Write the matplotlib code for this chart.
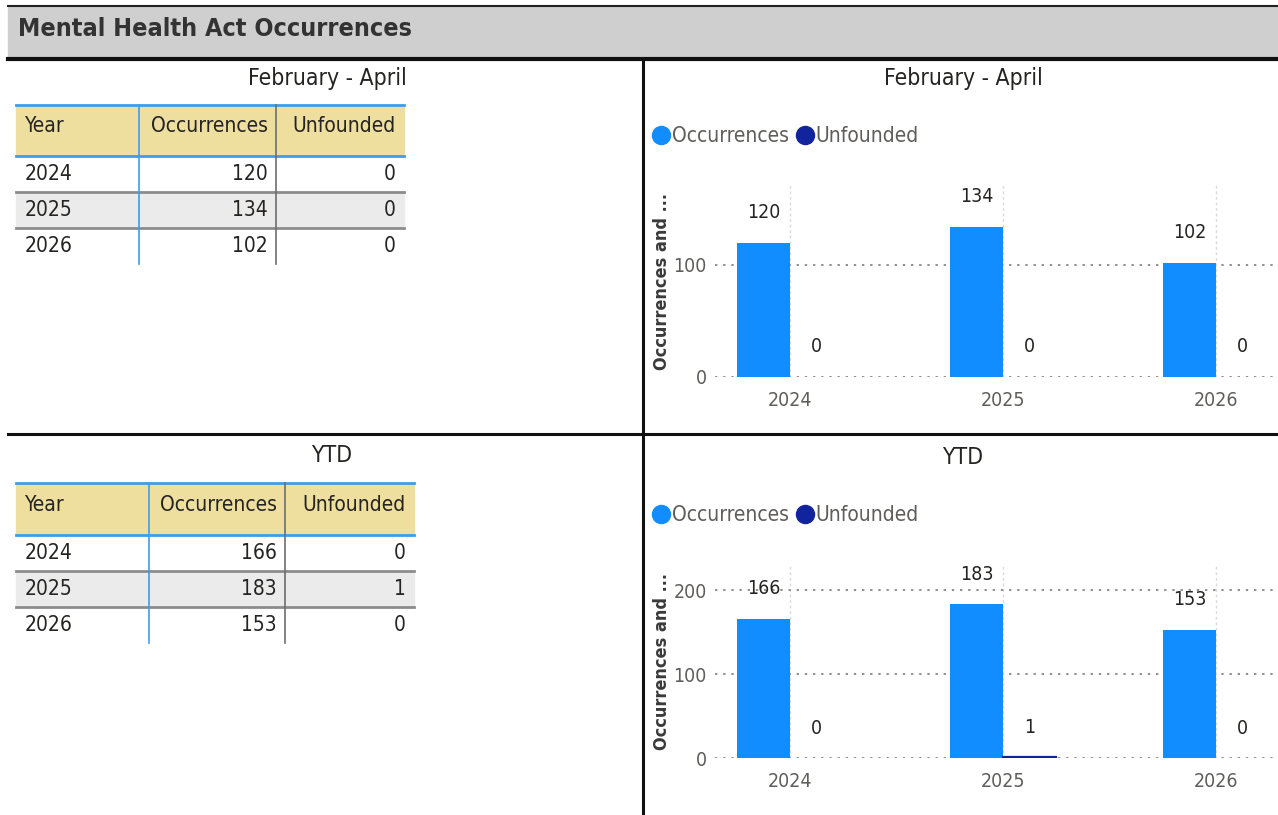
import matplotlib
matplotlib.use('Agg')
import matplotlib.pyplot as plt
from matplotlib.patches import Rectangle
from matplotlib.lines import Line2D

plt.rcParams['font.family'] = ['DejaVu Sans']
plt.rcParams['font.stretch'] = 'condensed'

# data
years = ['2024', '2025', '2026']
feb_apr_occurrences = [120, 134, 102]
feb_apr_unfounded = [0, 0, 0]
ytd_occurrences = [166, 183, 153]
ytd_unfounded = [0, 1, 0]
table_headers = ['Year', 'Occurrences', 'Unfounded']

OCC_COLOR = '#118DFF'
UNF_COLOR = '#12239E'
HEAD_BG = '#EFDF9F'
ROW_ALT = '#EBEBEB'
BLUE_LINE = '#3F9CEB'
TEXT = '#252423'
TICK = '#605E5C'

W, H = 1278, 815
fig = plt.figure(figsize=(W / 100, H / 100), dpi=100)

# background layer in pixel coordinates
bg = fig.add_axes([0, 0, 1, 1])
bg.set_xlim(0, W)
bg.set_ylim(H, 0)
bg.axis('off')

# header band
bg.add_patch(Rectangle((8, 6), W - 8, 51, color='#CFCFCF', zorder=0))
bg.plot([8, W], [6, 6], color='#202020', lw=1.5)
bg.plot([8, W], [58.5, 58.5], color='#101010', lw=3)
bg.text(18, 29, 'Mental Health Act Occurrences', fontsize=18, fontweight='bold',
        color='#333333', va='center', ha='left')

# dividers
bg.plot([8, W], [434, 434], color='#101010', lw=2.2)
bg.plot([643, 643], [60, H], color='#101010', lw=2.2)


def draw_table(x_edges, top, head_h, row_h, occ, unf, subtitle):
    x0, x1, x2, x3 = x_edges
    bottom = top + head_h + len(years) * row_h
    bg.text((x0 + x3) / 2 + 117, top - 27, subtitle, fontsize=16.5, color=TEXT,
            ha='center', va='center')
    bg.add_patch(Rectangle((x0, top), x3 - x0, head_h, color=HEAD_BG, zorder=0))
    bg.add_patch(Rectangle((x0, top + head_h + row_h), x3 - x0, row_h,
                           color=ROW_ALT, zorder=0))
    bg.plot([x0, x3], [top, top], color=BLUE_LINE, lw=2)
    bg.plot([x0, x3], [top + head_h] * 2, color=BLUE_LINE, lw=2)
    for k in (1, 2):
        bg.plot([x0, x3], [top + head_h + k * row_h] * 2, color='#8C8C8C', lw=2)
    bg.plot([x1, x1], [top, bottom], color=BLUE_LINE, lw=1.2)
    bg.plot([x2, x2], [top, bottom], color='#6E6E6E', lw=1.2)

    hy = top + head_h * 0.42
    bg.text(x0 + 9, hy, table_headers[0], fontsize=15, color=TEXT, va='center')
    bg.text(x2 - 8, hy, table_headers[1], fontsize=15, color=TEXT, va='center', ha='right')
    bg.text(x3 - 8, hy, table_headers[2], fontsize=15, color=TEXT, va='center', ha='right')
    for i, yr in enumerate(years):
        ry = top + head_h + (i + 0.5) * row_h
        bg.text(x0 + 9, ry, yr, fontsize=15, color=TEXT, va='center')
        bg.text(x2 - 8, ry, str(occ[i]), fontsize=15, color=TEXT, va='center', ha='right')
        bg.text(x3 - 8, ry, str(unf[i]), fontsize=15, color=TEXT, va='center', ha='right')


draw_table([16, 139, 276, 404], 105, 51, 36, feb_apr_occurrences, feb_apr_unfounded,
           'February - April')
draw_table([16, 149, 285, 414], 483, 52, 36, ytd_occurrences, ytd_unfounded, 'YTD')


def draw_chart(top_px, bottom_px, occ, unf, ymax, yticks, subtitle, title_y, legend_y):
    left_px, right_px = 715, W
    ax = fig.add_axes([left_px / W, 1 - bottom_px / H,
                       (right_px - left_px) / W, (bottom_px - top_px) / H])
    ax.patch.set_alpha(0)
    x = list(range(len(years)))
    bw = 0.25
    ax.bar([i - bw / 2 for i in x], occ, width=bw, color=OCC_COLOR, zorder=3)
    ax.bar([i + bw / 2 for i in x], unf, width=bw, color=UNF_COLOR, zorder=3,
           edgecolor=[UNF_COLOR if v else 'none' for v in unf], linewidth=1.6)
    for i in x:
        ax.annotate(str(occ[i]), (i - bw / 2, occ[i]), xytext=(0, 30),
                    textcoords='offset pixels', ha='center', va='center',
                    fontsize=14, color=TEXT, zorder=4)
        ax.annotate(str(unf[i]), (i + bw / 2, unf[i]), xytext=(0, 30),
                    textcoords='offset pixels', ha='center', va='center',
                    fontsize=14, color=TEXT, zorder=4)
    ax.set_xlim(-0.352, 2.29)
    ax.set_ylim(0, ymax)
    ax.set_yticks(yticks)
    ax.set_xticks(x)
    ax.set_xticklabels(years)
    for s in ax.spines.values():
        s.set_visible(False)
    ax.tick_params(length=0, labelsize=14, labelcolor=TICK, pad=10)
    ax.tick_params(axis='y', pad=6)
    ax.grid(axis='y', color='#8F8F8F', linestyle=(0, (1.2, 3)), lw=1.4, zorder=1)
    ax.grid(axis='x', color='#DADADA', linestyle=(0, (2, 2)), lw=1, zorder=1)

    bg.text(963, title_y, subtitle, fontsize=16.5, color=TEXT, ha='center', va='center')
    bg.text(662, (top_px + bottom_px) / 2, 'Occurrences and ...', rotation=90,
            fontsize=13, color='#3A3A3A', fontweight='bold', ha='center', va='center')
    handles = [Line2D([], [], marker='o', ls='', color=OCC_COLOR, markersize=13),
               Line2D([], [], marker='o', ls='', color=UNF_COLOR, markersize=13)]
    ax.legend(handles, ['Occurrences', 'Unfounded'], ncol=2, frameon=False,
              loc='center left', bbox_to_anchor=(655 / W, 1 - legend_y / H),
              bbox_transform=fig.transFigure, handlelength=0.6, handletextpad=0.2,
              columnspacing=0.5, borderpad=0, borderaxespad=0,
              prop={'size': 15}, labelcolor=TICK)


draw_chart(185, 377, feb_apr_occurrences, feb_apr_unfounded, 171.4, [0, 100],
           'February - April', 78, 136)
draw_chart(565, 758, ytd_occurrences, ytd_unfounded, 229.8, [0, 100, 200],
           'YTD', 457, 515)

fig.savefig('out.png', dpi=100)
